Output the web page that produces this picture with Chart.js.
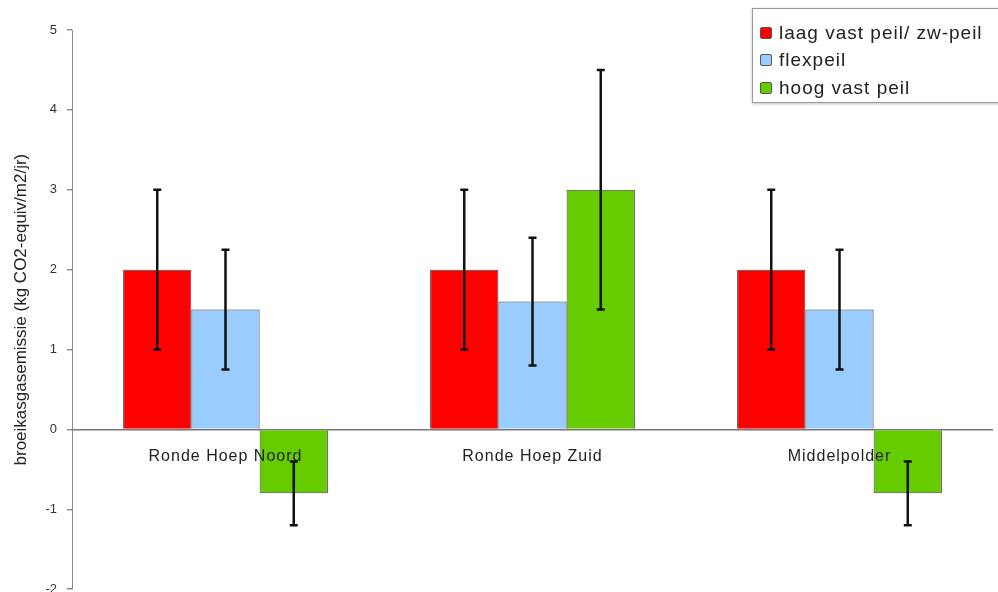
<!DOCTYPE html>
<html>
<head>
<meta charset="utf-8">
<script src="https://cdn.jsdelivr.net/npm/chart.js@4"></script>
<style>
  html, body { margin: 0; padding: 0; background: #fff; }
  #wrap { position: relative; width: 998px; height: 592px; overflow: hidden; }
  #legend {
    position: absolute; left: 752px; top: 8px; width: 260px; height: 95px;
    background: #fff; border: 1px solid #999; box-shadow: 0 1px 3px rgba(0,0,0,0.25);
    font-family: 'Liberation Sans', Arial, sans-serif; font-size: 19px; letter-spacing: 1px; color: #222;
    box-sizing: border-box; padding: 10px 0 0 7px;
  }
  #legend div { height: 27.5px; display: flex; align-items: center; white-space: nowrap; }
  #legend span.sw { width: 12px; height: 12px; border: 1px solid #555; border-radius: 2px; margin-right: 7px; box-sizing: border-box; }
</style>
</head>
<body>
<div id="wrap">
  <canvas id="c" width="998" height="607"></canvas>
  <div id="legend"></div>
</div>
<script>
const SITES = ['Ronde Hoep Noord', 'Ronde Hoep Zuid', 'Middelpolder'];
const SERIES = ['laag vast peil/ zw-peil', 'flexpeil', 'hoog vast peil'];
const COLORS = ['#ff0000', '#99ccff', '#66cc00'];

const laagVast = [2, 2, 2];
const flexpeil = [1.5, 1.6, 1.5];
const hoogVast = [-0.8, 3, -0.8];

// error bar ranges [low, high] per site
const laagVastErr = [[1, 3], [1, 3], [1, 3]];
const flexpeilErr = [[0.75, 2.25], [0.8, 2.4], [0.75, 2.25]];
const hoogVastErr = [[-1.2, -0.4], [1.5, 4.5], [-1.2, -0.4]];

const Y_TICKS = [-2, -1, 0, 1, 2, 3, 4, 5];

const values = [laagVast, flexpeil, hoogVast];
const errs = [laagVastErr, flexpeilErr, hoogVastErr];

const FONT = "'Liberation Sans', Arial, sans-serif";

// whiskers on top of each bar
const errorBars = {
  id: 'errorBars',
  afterDatasetsDraw(chart) {
    const { ctx, scales: { y } } = chart;
    ctx.save();
    ctx.strokeStyle = '#111';
    ctx.lineWidth = 2.5;
    chart.data.datasets.forEach((ds, di) => {
      chart.getDatasetMeta(di).data.forEach((bar, i) => {
        const [lo, hi] = ds.errors[i];
        const x = bar.x, y1 = y.getPixelForValue(lo), y2 = y.getPixelForValue(hi);
        ctx.beginPath();
        ctx.moveTo(x, y1); ctx.lineTo(x, y2);
        ctx.moveTo(x - 4, y1); ctx.lineTo(x + 4, y1);
        ctx.moveTo(x - 4, y2); ctx.lineTo(x + 4, y2);
        ctx.stroke();
      });
    });
    ctx.restore();
  }
};

// category names sit just under the zero line
const siteLabels = {
  id: 'siteLabels',
  afterDatasetsDraw(chart) {
    const { ctx, scales: { x, y } } = chart;
    const y0 = y.getPixelForValue(0);
    ctx.save();
    ctx.font = '16px ' + FONT;
    ctx.letterSpacing = '1px';
    ctx.fillStyle = '#222';
    ctx.textAlign = 'center';
    ctx.textBaseline = 'middle';
    chart.data.labels.forEach((lab, i) => {
      ctx.fillText(lab, x.getPixelForValue(i), y0 + 27);
    });
    ctx.restore();
  }
};

const chart = new Chart(document.getElementById('c'), {
  type: 'bar',
  data: {
    labels: SITES,
    datasets: SERIES.map((name, k) => ({
      label: name,
      data: values[k],
      errors: errs[k],
      backgroundColor: COLORS[k],
      borderColor: '#444',
      borderWidth: 1,
      categoryPercentage: 0.667,
      barPercentage: 1,
    })),
  },
  options: {
    responsive: false,
    animation: false,
    layout: { padding: { top: 30, right: 5, bottom: 0, left: 0 } },
    plugins: { legend: { display: false }, tooltip: { enabled: false } },
    scales: {
      x: { display: false },
      y: {
        min: -2, max: 5,
        afterBuildTicks: (s) => { s.ticks = Y_TICKS.map((v) => ({ value: v })); },
        afterFit: (s) => { s.width = 72; },
        border: { display: true, color: '#888', width: 1 },
        grid: {
          drawOnChartArea: true,
          color: (c) => (c.tick && c.tick.value === 0 ? '#777' : 'rgba(0,0,0,0)'),
          lineWidth: 1.5,
          tickLength: 5,
          tickColor: '#888',
        },
        ticks: { color: '#333', font: { family: FONT, size: 13 }, padding: 10 },
        title: {
          display: true,
          text: 'broeikasgasemissie (kg CO2-equiv/m2/jr)',
          color: '#222',
          font: { family: FONT, size: 17 },
          padding: { top: 11, bottom: 2 },
        },
      },
    },
  },
  plugins: [errorBars, siteLabels],
});

// legend box built from the datasets
const leg = document.getElementById('legend');
chart.data.datasets.forEach((ds) => {
  const row = document.createElement('div');
  row.innerHTML = '<span class="sw" style="background:' + ds.backgroundColor + '"></span>' + ds.label;
  leg.appendChild(row);
});
</script>
</body>
</html>
